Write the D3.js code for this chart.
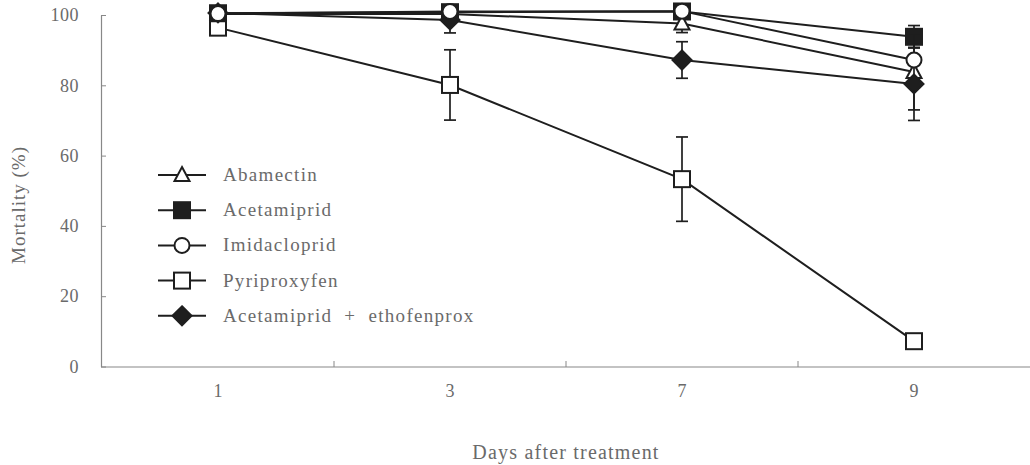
<!DOCTYPE html>
<html><head><meta charset="utf-8">
<script src="https://cdn.jsdelivr.net/npm/d3@7/dist/d3.min.js"></script>
<style>body{margin:0;background:#fff}svg{display:block}</style>
</head><body><svg id="c" width="1030" height="465"></svg>
<script>
const days = ["1", "3", "7", "9"];
const yTicks = [0, 20, 40, 60, 80, 100];
const seriesNames = ["Abamectin", "Acetamiprid", "Imidacloprid", "Pyriproxyfen", "Acetamiprid + ethofenprox"];
const abamectin = [100.3, 100.3, 97.6, 83.8];
const abamectinErr = [0, 0, 2.6, 10.8];
const acetamiprid = [100.5, 100.8, 101, 93.8];
const acetamipridErr = [0, 0, 0, 3.2];
const imidacloprid = [100.4, 101, 101.1, 87.2];
const imidaclopridErr = [0, 0, 0, 0];
const pyriproxyfen = [96.4, 80.1, 53.3, 7.2];
const pyriproxyfenErr = [0, 10, 12, 0];
const aceEtho = [100.6, 98.6, 87.2, 80.4];
const aceEthoErr = [0, 3.7, 5.2, 10.4];

const svg = d3.select("#c");
const x = d3.scaleBand().domain(days).range([102, 1030]).padding(0);
const y = d3.scaleLinear().domain([0, 100]).range([366.5, 15]);
const ink = "#1e1e1e", txt = "#6a6a6a", font = "Liberation Serif, Times New Roman, serif";

// axes
const yAxis = svg.append("g").attr("transform", "translate(101,0)")
  .call(d3.axisLeft(y).tickValues(yTicks).tickSize(-5).tickPadding(22).tickSizeOuter(0));
yAxis.select(".domain").attr("stroke", "#888").attr("stroke-width", 1.2);
yAxis.selectAll(".tick line").attr("stroke", "#888");
yAxis.selectAll("text").attr("font-family", font).attr("font-size", 18).attr("fill", txt).attr("letter-spacing", 0.5);

const xAxis = svg.append("g").attr("transform", "translate(0,367)")
  .call(d3.axisBottom(x).tickSize(0).tickPadding(17).tickSizeOuter(0));
xAxis.select(".domain").attr("stroke", "#888").attr("stroke-width", 1.2).attr("d", "M101,0H1030");
xAxis.selectAll("text").attr("font-family", font).attr("font-size", 18).attr("fill", txt);
// separator ticks between categories
const bounds = days.slice(1).map(d => x(d));
svg.append("g").selectAll("line").data(bounds).join("line")
  .attr("x1", d => d).attr("x2", d => d).attr("y1", 367).attr("y2", 361)
  .attr("stroke", "#888").attr("stroke-width", 1);

svg.append("text").attr("x", 566).attr("y", 459).attr("text-anchor", "middle")
  .attr("font-family", font).attr("font-size", 20).attr("letter-spacing", 1.2).attr("fill", txt)
  .text("Days after treatment");
svg.append("text").attr("transform", "translate(25,205) rotate(-90)").attr("text-anchor", "middle")
  .attr("font-family", font).attr("font-size", 19).attr("letter-spacing", 1).attr("fill", txt)
  .text("Mortality (%)");

const series = [
  {name: seriesNames[3], vals: pyriproxyfen, err: pyriproxyfenErr, shape: "square", fill: "#fff"},
  {name: seriesNames[1], vals: acetamiprid, err: acetamipridErr, shape: "square", fill: ink},
  {name: seriesNames[0], vals: abamectin, err: abamectinErr, shape: "triangle", fill: "#fff"},
  {name: seriesNames[4], vals: aceEtho, err: aceEthoErr, shape: "diamond", fill: ink},
  {name: seriesNames[2], vals: imidacloprid, err: imidaclopridErr, shape: "circle", fill: "#fff"},
];

function marker(g, shape, fill) {
  if (shape === "square") g.append("rect").attr("x", -8).attr("y", -8).attr("width", 16).attr("height", 16);
  else if (shape === "circle") g.append("circle").attr("r", 7.5);
  else if (shape === "triangle") g.append("path").attr("d", "M0,-8L7.5,6H-7.5Z");
  else if (shape === "diamond") g.append("path").attr("d", "M0,-9.5L9.5,0L0,9.5L-9.5,0Z");
  g.selectAll("*").attr("fill", fill).attr("stroke", ink).attr("stroke-width", 2);
}

const cx = d => x(d) + x.bandwidth() / 2;
const line = d3.line().x(d => cx(d.day)).y(d => y(d.v));

series.forEach(s => {
  const pts = days.map((d, i) => ({day: d, v: s.vals[i], e: s.err[i]}));
  const g = svg.append("g");
  // error bars
  pts.filter(p => p.e > 0).forEach(p => {
    const eg = g.append("g").attr("stroke", ink).attr("stroke-width", 1.7);
    eg.append("line").attr("x1", cx(p.day)).attr("x2", cx(p.day)).attr("y1", y(p.v + p.e)).attr("y2", y(p.v - p.e));
    [p.v + p.e, p.v - p.e].forEach(v => eg.append("line").attr("x1", cx(p.day) - 6).attr("x2", cx(p.day) + 6)
      .attr("y1", y(v)).attr("y2", y(v)));
  });
  g.append("path").datum(pts).attr("d", line).attr("fill", "none").attr("stroke", ink).attr("stroke-width", 2);
  pts.forEach(p => marker(g.append("g").attr("transform", `translate(${cx(p.day)},${y(p.v)})`), s.shape, s.fill));
});

// legend
const legendOrder = [
  {name: seriesNames[0], shape: "triangle", fill: "#fff"},
  {name: seriesNames[1], shape: "square", fill: ink},
  {name: seriesNames[2], shape: "circle", fill: "#fff"},
  {name: seriesNames[3], shape: "square", fill: "#fff"},
  {name: seriesNames[4], shape: "diamond", fill: ink},
];
const lg = svg.append("g");
legendOrder.forEach((d, i) => {
  const yy = 175 + i * 35.2;
  lg.append("line").attr("x1", 158).attr("x2", 206).attr("y1", yy).attr("y2", yy).attr("stroke", ink).attr("stroke-width", 2);
  marker(lg.append("g").attr("transform", `translate(182,${yy})`), d.shape, d.fill);
  lg.append("text").attr("x", 223).attr("y", yy + 6).attr("font-family", font).attr("font-size", 19)
    .attr("letter-spacing", 1.3).attr("fill", txt).attr("xml:space", "preserve").style("white-space", "pre")
    .text(d.name.replace(" + ", "  +  "));
});
</script></body></html>
